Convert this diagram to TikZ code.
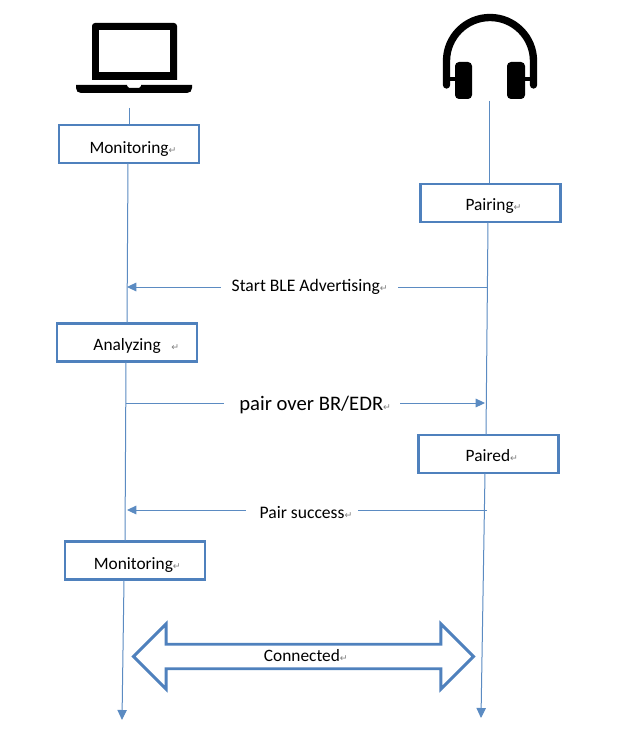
\documentclass[tikz,border=0pt]{standalone}
\usepackage{fontspec}
\setmainfont{Carlito}
\newfontfamily\symfont{DejaVu Sans}
\usetikzlibrary{arrows.meta,shapes.arrows}
\definecolor{boxblue}{HTML}{4F81BD}
\definecolor{lineblue}{HTML}{5B8BC2}
\newcommand{\ret}{{\symfont\color{gray}\fontsize{7}{8}\selectfont ↵}}
\tikzset{
  x=0.75pt,y=-0.75pt,
  stepbox/.style={draw=boxblue,line width=2.2pt,fill=white,minimum width=105pt,minimum height=28.5pt,inner sep=0pt,text height=13pt,text depth=2pt,font=\fontsize{13}{15}\selectfont},
  life/.style={draw=lineblue,line width=0.75pt},
  lifearrow/.style={life,-{Triangle[length=7.5pt,width=7pt]}},
  msg/.style={life,-{Triangle[length=7pt,width=6.5pt]}},
  msglabel/.style={fill=white,inner ysep=0pt,font=\fontsize{13.2}{15}\selectfont},
  icon/.style={fill=black,draw=none},
}
\begin{document}
\begin{tikzpicture}
\useasboundingbox (0,0) rectangle (619,756);
\fill[white] (0,0) rectangle (619,756);
% laptop icon
\fill[icon] (92,80) -- (92,26) arc[start angle=180,end angle=90,x radius=3,y radius=-3] -- (174,23) arc[start angle=90,end angle=0,x radius=3,y radius=-3] -- (177,80) -- cycle;
\fill[white] (99,30) rectangle (170,72);
\fill[icon] (76,85) -- (127,85) -- (127,86) -- (129,88) -- (139,88) -- (141,86) -- (141,85) -- (192,85) -- (192,88) .. controls (192,91) and (190,93) .. (187,93) -- (81,93) .. controls (78,93) and (76,91) .. (76,88) -- cycle;
% headphones icon
\draw[line width=5.5pt,line cap=round] (446.5,85) -- (446.5,61) arc[start angle=180,end angle=0,x radius=43.5,y radius=-43.5] -- (533.5,85);
\draw[line width=3pt] (447,79) -- (456,79) (524,79) -- (533,79);
\fill[icon,rounded corners=3pt] (455,62) rectangle (472,99);
\fill[icon,rounded corners=3pt] (507,62) rectangle (525,99);
% nodes
\node[stepbox,text height=15.5pt] (mon1) at (129,144) {\hspace*{6pt}Monitoring\ret};
\node[stepbox] (pair) at (490.5,203) {\hspace*{4.5pt}Pairing\ret};
\node[stepbox,text height=14pt] (ana) at (127,342.5) {\hspace*{14pt}Analyzing\hspace{8pt}\ret};
\node[stepbox] (paired) at (488.5,454) {\hspace*{5pt}Paired\ret};
\node[stepbox,text height=15.5pt] (mon2) at (135,560.5) {\hspace*{3.5pt}Monitoring\ret};
% lifeline ends
\coordinate (ltop) at (129,108);
\coordinate (lend) at (122,720);
\coordinate (rtop) at (489,101);
\coordinate (rend) at (481,718);
\coordinate (lA) at (127,287);
\coordinate (rA) at (487,287);
\coordinate (lB) at (126,403);
\coordinate (rB) at (485,403);
\coordinate (lC) at (127,510);
\coordinate (rC) at (487,510);
% lifelines
\draw[life] (ltop) -- (ltop |- mon1.north);
\draw[life] (128,163) -- (127,323);
\draw[life] (126,362) -- (125,541);
\draw[lifearrow] (124,580) -- (lend);
\draw[life] (rtop) -- (rtop |- pair.north);
\draw[life] (488,222) -- (486,435);
\draw[lifearrow] (485,473) -- (rend);
% messages
\draw[msg] (rA) -- node[msglabel,inner xsep=8pt,xshift=2pt,text height=9pt,text depth=3pt] {Start BLE Advertising\ret} (lA);
\draw[msg] (lB) -- node[msglabel,inner xsep=6.75pt,xshift=5pt,text height=12pt,text depth=1.5pt,font=\fontsize{15.5}{17}\selectfont] {\hspace*{4.5pt}pair over BR/EDR\ret} (rB);
\draw[msg] (rC) -- node[msglabel,inner xsep=4pt,xshift=-3.75pt,text height=14pt,text depth=2pt] {\hspace*{6pt}Pair success\ret} (lC);
% connected
\node[draw=boxblue,line width=2.2pt,fill=white,shape=double arrow,double arrow head extend=12.5pt,double arrow tip angle=90,minimum height=255pt,minimum width=49pt,inner sep=0pt,text height=9.8pt,text depth=3pt,font=\fontsize{13}{15}\selectfont] (conn) at (303.5,656.5) {\hspace*{3.5pt}Connected\ret};
\end{tikzpicture}
\end{document}
